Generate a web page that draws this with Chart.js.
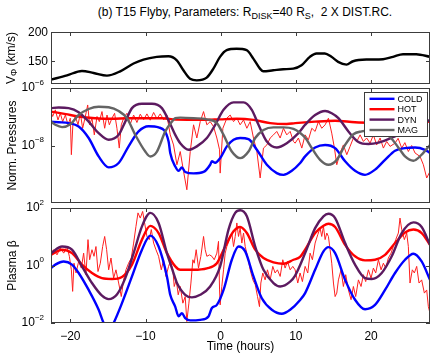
<!DOCTYPE html>
<html>
<head>
<meta charset="utf-8">
<title>T15 Flyby</title>
<script src="https://cdn.jsdelivr.net/npm/chart.js@4.4.1/dist/chart.umd.min.js"></script>
<style>
  body { margin: 0; background: #fff; }
  #wrap { position: relative; width: 437px; height: 356px; font-family: 'Liberation Sans', Arial, sans-serif; }
  #wrap canvas { position: absolute; left: 0; top: 0; }
  #title { position: absolute; left: 55px; width: 380px; top: 5px; text-align: center; font-size: 12px; white-space: nowrap; }
  #title sub { font-size: 9px; vertical-align: baseline; position: relative; top: 3px; }
</style>
</head>
<body>
<div id="wrap">
  <div id="title">(b) T15 Flyby, Parameters: R<sub>DISK</sub>=40 R<sub>S</sub>,&nbsp; 2 X DIST.RC.</div>
  <canvas id="c1" width="437" height="356"></canvas>
  <canvas id="c2" width="437" height="356"></canvas>
  <canvas id="c3" width="437" height="356"></canvas>
</div>
<script>
// time axis (hours)
const xMin = -22.57, xMax = 27.84;
const xTicks = [-20, -10, 0, 10, 20];

// tick labels (log panels hold powers of ten)
const vphiTicks = [150, 200];
const pressTicks = [-8, -6];
const betaTicks = [-2, 0, 2];

const seriesNames = ['COLD', 'HOT', 'DYN', 'MAG'];

// --- top panel: V_phi (km/s)
const vphiT = [-22.57,-20.44,-18.45,-16.9,-15.13,-13.36,-11.59,-10.27,-8.5,-6.95,-5.84,-4.96,-4.07,-3.19,-1.86,-0.97,-0.09,0.8,2.12,3.45,4.34,5.22,5.66,6.99,8.32,9.65,10.75,11.86,12.74,13.85,14.73,15.62,16.73,17.61,19.38,21.59,22.92,24.25,26.02,27.84];
const vphi = [117.5,125,132.6,129,124.5,132,145.4,152.3,157,158,151,133.7,119,116.3,121,136.6,157,168.6,170.9,168.6,154,136.6,132,133.7,135.5,136.6,142.5,157,162.8,162.8,157,148.3,143.6,149.4,152.3,152.9,157,161.6,161.6,157];

// --- middle panel: normalised pressures, log10 values
const coldPT = [-22.57,-21.55,-20.22,-18.89,-17.56,-16.23,-14.9,-13.57,-12.25,-10.92,-9.59,-8.26,-6.93,-6.71,-6.04,-5.6,-5.16,-4.72,-3.61,-2.28,-1.4,-1.17,-0.73,-0.07,0.82,1.71,2.59,3.7,4.81,6.14,7.46,8.35,9.46,10.57,11.23,12.56,13.89,15.22,16.55,17.87,19.2,20.53,21.86,23.19,24.52,25.85,27.18,27.84];
const coldP = [-7.17,-7.19,-7.22,-7.34,-7.74,-8.38,-8.76,-8.61,-8.03,-7.51,-7.33,-7.37,-7.86,-8.26,-8.73,-8.88,-8.76,-8.92,-8.97,-8.92,-8.67,-8.55,-8.6,-8.44,-8.03,-7.8,-7.74,-7.78,-8.15,-8.67,-8.96,-9.02,-8.88,-8.61,-8.38,-8.07,-7.98,-8.09,-8.55,-8.88,-9.02,-8.84,-8.5,-8.18,-8.09,-8.07,-8.15,-8.26];

const hotPT = [-22.57,-20.6,-18.9,-16.7,-14.5,-12.2,-10.0,-7.8,-6.0,-2.28,-0.07,2.15,4.36,6.58,8.79,9.9,12.56,15.22,17.87,22,25,27.84];
const hotP = [-6.82,-6.91,-6.99,-7.05,-7.07,-7.05,-7.05,-7.05,-7.1,-7.11,-7.09,-7.07,-7.11,-7.22,-7.25,-7.22,-7.17,-7.14,-7.19,-7.22,-7.25,-7.17];

const dynPT = [-22.57,-21.55,-20.22,-18.89,-17.56,-16.23,-14.9,-13.57,-12.69,-11.8,-10.47,-9.14,-7.82,-6.71,-6.04,-5.38,-4.27,-3.17,-1.84,-0.73,0.38,1.71,3.04,4.14,5.03,6.14,7.46,8.79,10.34,11.23,12.56,13.89,14.77,15.66,16.99,18.32,19.65,21,23,25,27,27.84];
const dynP = [-6.7,-6.68,-6.7,-6.84,-7.17,-7.57,-7.8,-7.63,-7.17,-6.7,-6.55,-6.55,-6.7,-7.25,-7.63,-7.92,-8.15,-8.03,-7.74,-7.28,-6.76,-6.5,-6.5,-6.76,-7.28,-7.86,-8.07,-7.92,-7.57,-7.28,-6.94,-6.8,-6.88,-7.05,-7.51,-7.88,-7.95,-7.9,-7.7,-7.45,-7.2,-7.12];

const magPT = [-22.57,-21.99,-21.1,-20.0,-18.89,-17.56,-16.23,-14.9,-13.57,-12.47,-11.36,-10.03,-9.37,-8.48,-7.37,-6.49,-6.04,-5.38,-3.61,-1.84,-0.51,0.38,1.48,2.59,3.7,4.59,5.69,7.02,8.35,9.68,10.5,11.3,12.12,13.22,14.33,15.44,16.55,17.65,18.76,20.5,22.5,23.85,24.52,25.63,26.73,27.84];
const magP = [-7.17,-7.28,-7.36,-7.26,-6.94,-6.73,-6.65,-6.67,-6.8,-7.05,-7.63,-8.21,-8.38,-8.21,-7.51,-7.17,-7.05,-7.03,-7.05,-7.09,-7.22,-7.63,-8.21,-8.44,-8.21,-7.74,-7.46,-7.37,-7.37,-7.42,-7.55,-7.75,-8.09,-8.5,-8.67,-8.5,-7.98,-7.61,-7.51,-7.45,-7.7,-8.15,-8.38,-8.53,-8.32,-7.98];

// measured hot pressure (noisy trace)
const hotObsPT = [-22.57,-22.35,-22.0,-21.64,-21.33,-21.02,-20.66,-20.31,-20.0,-19.86,-19.64,-19.33,-18.98,-18.67,-18.36,-18.0,-17.69,-17.43,-17.12,-16.81,-16.45,-16.14,-15.79,-15.43,-15.12,-14.81,-14.46,-14.11,-13.8,-13.49,-13.22,-12.91,-12.47,-12.02,-11.58,-11.14,-10.7,-10.25,-9.81,-9.37,-8.92,-8.48,-8.04,-7.59,-7.15,
  -6.71,-6.27,-5.82,-5.38,-4.94,-4.5,-4.05,-3.61,-3.17,-2.72,-2.28,-1.84,-1.4,-0.95,-0.51,-0.15,-0.07,0.29,0.82,1.26,1.71,2.15,2.59,3.04,3.48,3.92,4.36,4.81,5.25,5.69,6.14,6.58,7.02,7.46,7.91,8.35,8.79,9.24,9.68,
  9.9,10.34,10.79,11.23,11.67,12.12,12.56,13.0,13.44,13.89,14.33,14.77,15.13,15.44,15.88,16.32,16.77,17.21,17.65,18.1,18.54,18.98,19.42,19.87,20.31,20.75,21.2,21.64,22.08,22.53,23.19,23.6,24.08,24.5,24.96,25.4,25.85,26.51,26.96,27.4,27.84];
const hotObsP = [-6.82,-6.99,-6.76,-7.11,-6.88,-7.17,-6.94,-7.28,-7.05,-8.32,-7.17,-6.99,-7.28,-6.88,-7.4,-6.99,-6.59,-7.28,-7.05,-7.63,-6.99,-7.17,-6.82,-7.4,-6.94,-7.28,-7.05,-6.88,-7.4,-8.09,-7.28,-7.05,-6.88,-7.25,-6.94,-7.2,-6.91,-7.1,-6.9,-7.12,-6.85,-7.07,-6.9,-7.1,-6.95,
  -7.63,-7.98,-8.67,-8.21,-8.9,-9.54,-8.21,-7.28,-7.74,-7.17,-6.82,-7.28,-7.17,-7.34,-7.74,-8.15,-8.96,-7.4,-7.05,-6.94,-7.17,-7.05,-7.28,-7.11,-7.4,-7.17,-7.74,-8.21,-9.13,-8.09,-7.98,-7.74,-7.63,-7.51,-7.74,-7.4,-7.63,-7.51,-7.86,
  -7.92,-7.74,-8.09,-7.63,-7.8,-7.4,-7.51,-7.17,-7.4,-7.28,-7.05,-7.57,-8.09,-8.67,-8.26,-7.98,-8.32,-8.03,-7.74,-7.86,-7.63,-7.86,-7.74,-7.92,-7.63,-7.98,-7.74,-8.09,-7.86,-8.03,-7.92,-7.75,-8.09,-7.9,-8.21,-8.0,-8.26,-8.38,-8.67,-9.13,-8.9];

// --- bottom panel: plasma beta, log10 values
const coldBT = [-22.57,-21.99,-20.88,-19.78,-18.89,-17.56,-16.23,-15.57,-14.9,-14.24,-13.13,-11.8,-10.47,-9.37,-8.26,-7.15,-6.71,-6.05,-5.6,-5.16,-4.72,-4.05,-2.72,-1.62,-1.17,-0.51,0.38,1.48,2.37,3.26,4.36,5.47,6.8,8.13,9.24,10.57,11.23,12.56,13.67,14.33,15.22,16.55,17.87,19.2,20.53,21.86,23.19,24.52,25.63,26.73,27.84];
const coldB = [-0.09,0.03,0.14,0.03,-0.26,-0.85,-1.54,-2.0,-2.3,-2.0,-1.31,-0.38,0.55,1.04,0.66,-0.38,-1.02,-1.43,-1.77,-1.66,-1.83,-1.91,-1.89,-1.77,-1.48,-1.37,-0.85,0.2,0.66,0.49,-0.38,-1.14,-1.54,-1.68,-1.54,-1.2,-0.96,-0.15,0.49,0.64,0.43,-0.5,-1.19,-1.52,-1.37,-0.85,-0.26,0.2,0.41,0.14,-0.5];

const hotBT = [-22.57,-21.1,-19.78,-18.45,-17.12,-15.79,-14.46,-13.13,-11.8,-10.47,-9.37,-8.26,-7.15,-6.04,-5.38,-3.61,-1.84,-0.51,0.6,1.71,2.59,3.48,4.59,5.69,7.02,8.35,9.68,10.56,11.23,12.56,13.67,14.33,15.22,16.55,17.87,19.2,20.53,21.86,23.19,24.52,25.63,26.73,27.84];
const hotB = [0.37,0.55,0.43,0.03,-0.26,-0.44,-0.47,-0.4,0.03,0.9,1.38,1.13,0.43,-0.03,-0.15,-0.15,-0.1,0.08,0.66,1.19,1.34,1.13,0.55,0.26,0.11,0.06,0.2,0.3,0.55,1.13,1.38,1.45,1.34,0.72,0.32,0.18,0.2,0.37,0.78,1.15,1.25,1.13,0.72];

const dynBT = [-22.57,-21.1,-19.78,-18.45,-17.12,-15.79,-14.9,-13.8,-12.69,-11.58,-10.47,-9.37,-8.26,-7.15,-6.71,-6.04,-5.82,-4.72,-3.83,-2.72,-1.4,-0.07,1.04,1.93,2.59,3.48,4.59,5.69,7.02,7.91,9.24,9.9,11.23,12.56,13.67,14.33,15.22,16.55,17.87,19.2,20.09,21.42,22.75,24.08,25.63,26.73,27.84];
const dynB = [0.43,0.66,0.55,-0.03,-0.61,-1.05,-1.17,-1.01,-0.44,0.43,1.36,1.83,1.48,0.43,0.08,-0.45,-0.61,-1.02,-1.11,-1.02,-0.73,-0.03,1.25,1.83,1.92,1.71,0.66,-0.15,-0.61,-0.73,-0.56,-0.35,0.43,1.3,1.71,1.8,1.65,0.78,0.03,-0.44,-0.47,-0.26,0.32,1.13,1.5,1.34,0.72];

// measured hot beta (noisy trace)
const hotObsBT = [-22.57,-22.21,-21.77,-21.33,-20.88,-20.44,-20.13,-19.86,-19.69,-19.51,-19.24,-18.89,-18.54,-18.23,-17.92,-17.65,-17.43,-17.12,-16.85,-16.59,-16.32,-16.01,-15.7,-15.43,-15.17,-14.9,-14.59,-14.24,-13.93,-13.57,-13.22,-12.91,-12.6,-12.25,-11.89,-11.58,-11.27,-11.0,-10.7,-10.38,-10.12,-9.81,-9.5,-9.23,-8.92,-8.61,-8.26,-7.9,-7.59,-7.28,-6.93,
  -6.71,-6.36,-6.18,-5.91,-5.65,-5.38,-5.03,-4.72,-4.5,-4.23,-3.96,-3.7,-3.52,-3.26,-2.95,-2.64,-2.28,-2.06,-1.84,-1.48,-1.17,-0.86,-0.51,-0.29,-0.15,-0.07,0.15,0.38,0.6,0.82,1.17,1.48,1.71,1.93,2.15,2.37,2.59,2.81,3.04,3.26,3.57,3.92,4.28,4.6,4.9,5.16,5.34,5.6,5.91,6.22,6.58,6.93,7.24,7.55,7.91,8.26,8.57,8.88,9.24,9.59,
  9.9,10.25,10.56,10.87,11.23,11.58,11.89,12.2,12.56,12.91,13.22,13.44,13.67,13.89,14.11,14.33,14.55,14.77,15.0,15.22,15.44,15.66,16.01,16.32,16.63,16.99,17.34,17.65,17.96,18.32,18.67,18.98,19.29,19.65,20.0,20.31,20.62,20.98,21.33,21.64,21.95,22.3,22.66,22.97,23.28,23.63,23.85,24.08,24.43,24.74,24.96,25.18,25.49,25.76,26.07,26.38,26.73,27.09,27.4,27.62,27.84];
const hotObsB = [0.43,0.55,0.37,0.61,0.43,0.66,0.32,-0.15,-0.9,0.08,-0.26,0.14,-0.09,0.43,-0.32,0.9,0.2,0.55,0.32,0.66,-0.21,0.08,0.66,1.01,0.55,-0.15,0.26,-0.44,-0.15,-0.61,-1.08,-0.5,-0.15,0.08,0.26,0.78,1.36,1.83,1.65,1.88,1.48,1.01,0.9,1.25,0.78,0.55,0.32,-0.15,0.2,-0.38,-0.03,
  0.14,-0.15,-0.73,-0.5,-1.02,-0.73,-1.31,-1.08,-1.95,-1.31,-0.61,0.2,0.08,0.55,-0.09,0.32,1.01,0.55,0.32,0.37,0.32,0.2,0.43,0.84,-0.85,-1.37,-0.73,-0.15,0.43,0.66,0.9,1.13,0.66,1.01,1.48,1.01,1.3,0.78,1.13,0.66,0.32,-0.15,-0.5,-0.67,-1.08,-1.43,-0.61,-0.26,-0.5,-0.15,-0.5,-0.03,-0.26,-0.15,-0.38,0.2,-0.09,0.14,-0.15,-0.03,
  -0.15,-0.61,-0.26,-0.56,-0.03,-0.26,0.43,0.2,0.78,1.07,1.3,1.01,1.36,0.9,1.13,1.01,0.55,0.08,-0.61,-1.08,-0.96,-0.5,-0.15,-0.73,-0.32,-0.85,-1.19,-0.73,-1.08,-0.5,-0.73,-0.32,-0.56,-0.15,-0.44,-0.09,-0.26,0.2,-0.15,0.08,-0.09,0.26,0.43,0.66,0.9,1.13,1.65,1.25,0.9,1.13,0.66,-0.61,-0.15,-0.26,-0.03,-0.61,-0.5,-0.96,-0.85,-1.43,-1.66];

const FONT = "'Liberation Sans', Arial, sans-serif";
Chart.defaults.font.family = FONT;
Chart.defaults.font.size = 12;
Chart.defaults.color = '#000';

const BLUE = '#0000ff', RED = '#ff0000', PURPLE = '#5c1a60', GREY = '#646464';
const legendColors = [BLUE, RED, PURPLE, GREY];

function pts(ts, vs, log) {
  return ts.map((t, i) => ({ x: t, y: log ? Math.pow(10, vs[i]) : vs[i] }));
}

function curve(label, ts, vs, color, log) {
  return { label, data: pts(ts, vs, log), borderColor: color, borderWidth: 2.4, pointRadius: 0,
    fill: false, clip: 0, cubicInterpolationMode: 'monotone', tension: 0.4 };
}

function noisy(label, ts, vs) {
  return { label, data: pts(ts, vs, true), borderColor: '#ff1f1f', borderWidth: 1, pointRadius: 0,
    fill: false, clip: 0, tension: 0 };
}

// box, inward ticks and y tick labels, MATLAB style
const framePlugin = {
  id: 'frame',
  afterDraw(chart, args, opts) {
    const { ctx, chartArea: a } = chart;
    const x = chart.scales.x, y = chart.scales.y;
    ctx.save();
    ctx.strokeStyle = '#3c3c3c';
    ctx.lineWidth = 1;
    ctx.strokeRect(Math.round(a.left) + 0.5, Math.round(a.top) + 0.5,
      Math.round(a.right - a.left) - 1, Math.round(a.bottom - a.top) - 1);

    ctx.beginPath();
    xTicks.forEach(v => {
      const px = Math.round(x.getPixelForValue(v)) + 0.5;
      ctx.moveTo(px, a.top); ctx.lineTo(px, a.top + 4);
      ctx.moveTo(px, a.bottom); ctx.lineTo(px, a.bottom - 4);
    });
    opts.ticks.forEach(v => {
      const py = Math.round(y.getPixelForValue(opts.log ? Math.pow(10, v) : v)) + 0.5;
      ctx.moveTo(a.left, py); ctx.lineTo(a.left + 4, py);
      ctx.moveTo(a.right, py); ctx.lineTo(a.right - 4, py);
    });
    ctx.stroke();

    ctx.fillStyle = '#000';
    ctx.textBaseline = 'middle';
    opts.ticks.forEach(v => {
      const py = y.getPixelForValue(opts.log ? Math.pow(10, v) : v);
      if (opts.log) {
        const exp = v < 0 ? '\u2212' + (-v) : String(v);
        ctx.font = '8px ' + FONT;
        const ew = ctx.measureText(exp).width;
        ctx.textAlign = 'left';
        ctx.fillText(exp, 44 - ew, py - 5.5);
        ctx.font = '12px ' + FONT;
        ctx.textAlign = 'right';
        ctx.fillText('10', 44 - ew, py);
      } else {
        ctx.font = '12px ' + FONT;
        ctx.textAlign = 'right';
        ctx.fillText(String(v), 48, py + 1);
      }
    });

    if (opts.vTitle) {
      // V with subscript phi
      ctx.translate(12, (a.top + a.bottom) / 2);
      ctx.rotate(-Math.PI / 2);
      ctx.textAlign = 'left';
      ctx.font = '12px ' + FONT;
      const w1 = ctx.measureText('V').width, w3 = ctx.measureText(' (km/s)').width;
      ctx.font = '9px ' + FONT;
      const w2 = ctx.measureText('\u03A6').width;
      const sx = -(w1 + w2 + w3) / 2;
      ctx.font = '12px ' + FONT;
      ctx.fillText('V', sx, 0);
      ctx.font = '9px ' + FONT;
      ctx.fillText('\u03A6', sx + w1, 3);
      ctx.font = '12px ' + FONT;
      ctx.fillText(' (km/s)', sx + w1 + w2, 0);
    }
    ctx.restore();
  }
};

const legendPlugin = {
  id: 'boxLegend',
  afterDraw(chart) {
    const { ctx, chartArea: a } = chart;
    const left = a.right - 65.5, top = a.top + 4.5, w = 63, h = 44;
    ctx.save();
    ctx.fillStyle = '#fff';
    ctx.fillRect(left, top, w, h);
    ctx.strokeStyle = '#3c3c3c';
    ctx.lineWidth = 1;
    ctx.strokeRect(left, top, w, h);
    ctx.font = '9px ' + FONT;
    ctx.textBaseline = 'middle';
    ctx.textAlign = 'left';
    seriesNames.forEach((name, i) => {
      const ry = top + 6.3 + i * 10.4;
      ctx.strokeStyle = legendColors[i];
      ctx.lineWidth = 2.4;
      ctx.beginPath();
      ctx.moveTo(left + 5, ry); ctx.lineTo(left + 30, ry);
      ctx.stroke();
      ctx.fillStyle = '#000';
      ctx.fillText(name, left + 33, ry + 0.5);
    });
    ctx.restore();
  }
};

function options(cfg) {
  const x = {
    type: 'linear', min: xMin, max: xMax, display: cfg.showX,
    afterBuildTicks: s => { s.ticks = xTicks.map(v => ({ value: v })); },
    grid: { display: false, drawTicks: false },
    border: { display: false },
    ticks: { padding: 6, maxRotation: 0, callback: v => v < 0 ? '\u2212' + (-v) : String(v) },
    title: { display: cfg.showX, text: 'Time (hours)', padding: { top: 0, bottom: 2 } }
  };
  if (cfg.showX) x.afterFit = s => { s.height = 33; };
  return {
    responsive: false, animation: false, events: [],
    layout: { padding: { left: 0, right: 7, top: cfg.top, bottom: cfg.bottom } },
    plugins: { legend: { display: false }, tooltip: { enabled: false }, frame: cfg.frame },
    scales: {
      x,
      y: {
        type: cfg.yType, min: cfg.yMin, max: cfg.yMax,
        afterFit: s => { s.width = 51; },
        grid: { display: false, drawTicks: false },
        border: { display: false },
        ticks: { display: false },
        title: { display: !!cfg.yTitle, text: cfg.yTitle || '', padding: { top: 5, bottom: 0 } }
      }
    }
  };
}

new Chart(document.getElementById('c1'), {
  type: 'line',
  data: { datasets: [{ label: 'V_phi', data: pts(vphiT, vphi, false), borderColor: '#000', borderWidth: 2.4,
    pointRadius: 0, fill: false, clip: 0, cubicInterpolationMode: 'monotone', tension: 0.4 }] },
  options: options({ top: 32, bottom: 356 - 84, showX: false, yType: 'linear', yMin: 110, yMax: 200,
    frame: { ticks: vphiTicks, log: false, vTitle: true } }),
  plugins: [framePlugin]
});

new Chart(document.getElementById('c2'), {
  type: 'line',
  data: { datasets: [
    curve('MAG', magPT, magP, GREY, true),
    curve('DYN', dynPT, dynP, PURPLE, true),
    curve('HOT', hotPT, hotP, RED, true),
    curve('COLD', coldPT, coldP, BLUE, true),
    noisy('HOT obs', hotObsPT, hotObsP)
  ] },
  options: options({ top: 88, bottom: 356 - 203, showX: false, yType: 'logarithmic', yMin: 1e-10, yMax: 1e-6,
    yTitle: 'Norm. Pressures', frame: { ticks: pressTicks, log: true } }),
  plugins: [framePlugin, legendPlugin]
});

new Chart(document.getElementById('c3'), {
  type: 'line',
  data: { datasets: [
    curve('DYN', dynBT, dynB, PURPLE, true),
    curve('HOT', hotBT, hotB, RED, true),
    curve('COLD', coldBT, coldB, BLUE, true),
    noisy('HOT obs', hotObsBT, hotObsB)
  ] },
  options: options({ top: 208, bottom: 0, showX: true, yType: 'logarithmic', yMin: 1e-2, yMax: 1e2,
    yTitle: 'Plasma \u03B2', frame: { ticks: betaTicks, log: true } }),
  plugins: [framePlugin]
});
</script>
</body>
</html>
